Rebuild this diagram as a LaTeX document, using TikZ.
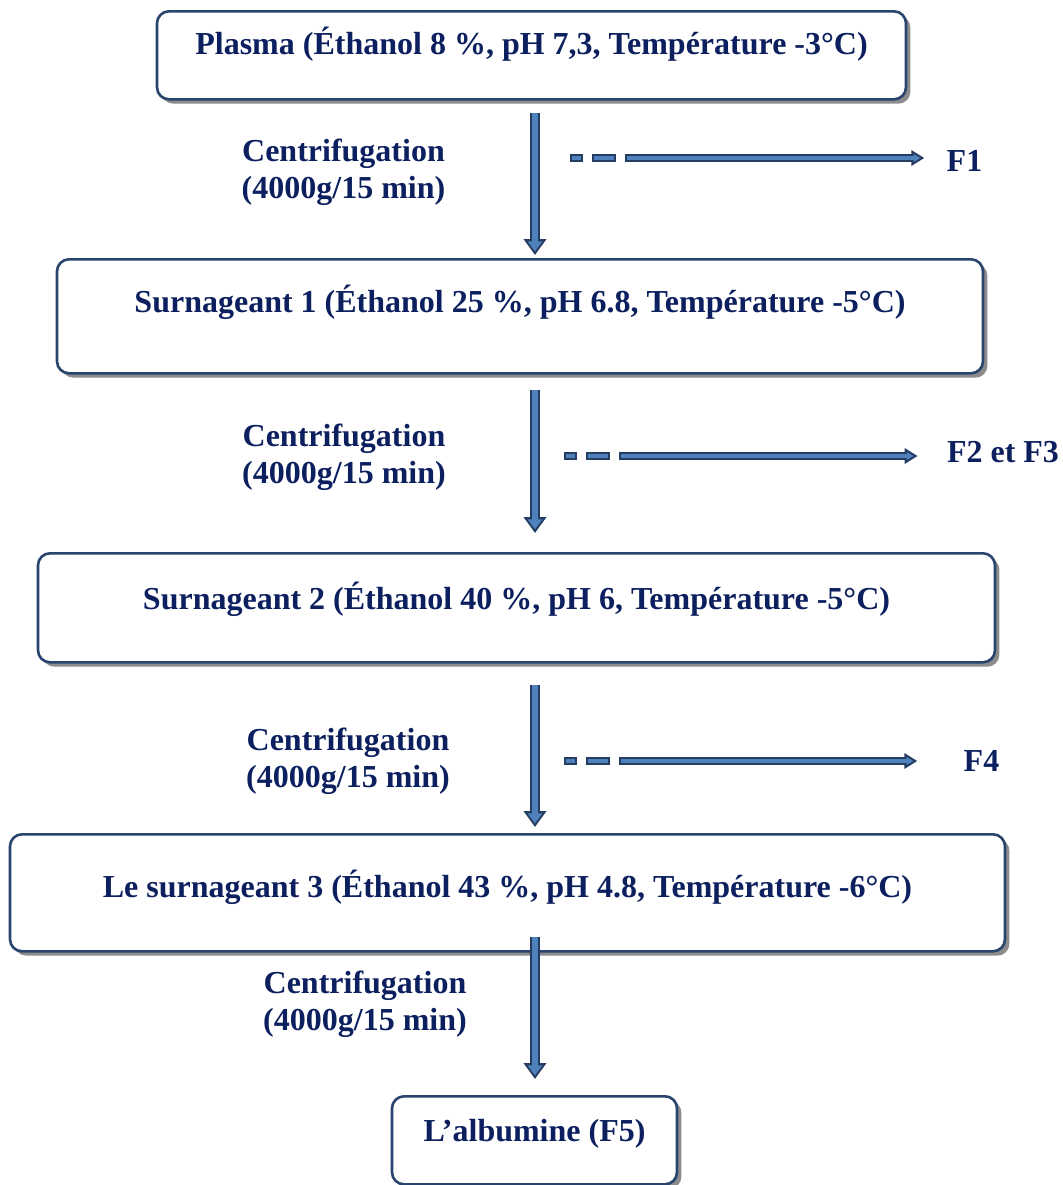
\documentclass[tikz,border=0pt]{standalone}
\usepackage{fontspec}
\setmainfont{Liberation Serif}
\usepackage{xcolor}
\usetikzlibrary{arrows.meta,shadows}

\definecolor{inkNavy}{RGB}{12,31,94}
\definecolor{edgeNavy}{RGB}{41,69,110}
\definecolor{arrowBlue}{RGB}{79,129,189}
\definecolor{arrowEdge}{RGB}{36,61,96}

\begin{document}
\begin{tikzpicture}[
    x=0.5pt, y=-0.5pt,
    every node/.style={font=\fontsize{16}{18.4}\selectfont\bfseries, text=inkNavy},
    stepBox/.style={
        rectangle,
        rounded corners=6pt,
        draw=edgeNavy,
        fill=white,
        line width=1.3pt,
        inner ysep=0pt,
        anchor=north,
        drop shadow={shadow xshift=2.2pt, shadow yshift=-2.2pt, fill=gray!90, opacity=1}
    },
    spinLabel/.style={align=center, anchor=base, inner sep=0pt},
    fracLabel/.style={inner ysep=0pt},
    flowArrow/.style={
        preaction={draw=arrowEdge, line width=5.2pt, shorten >=0pt,
            -{Triangle[length=8pt, width=11pt]}},
        draw=arrowBlue, line width=3.2pt, shorten >=1.8pt,
        -{Triangle[length=5pt, width=7pt]}
    },
    sideArrow/.style={
        preaction={draw=arrowEdge, line width=4pt, shorten >=0pt,
            dash pattern=on 6.5pt off 4.5pt on 12pt off 4.5pt on 600pt,
            -{Triangle[length=6.5pt, width=7.5pt]}},
        draw=arrowBlue, line width=1.8pt, shorten >=2pt,
        dash pattern=on 0pt off 1pt on 4.5pt off 6.5pt on 10pt off 6.5pt on 600pt,
        -{Triangle[length=3.4pt, width=3.8pt]}
    }
]
\useasboundingbox (0,0) rectangle (1062,1185);

% fractionation steps
\node[stepBox, minimum width=374.5pt, text height=21.5pt, text depth=22.5pt] (p0) at (531.5,10)
    {Plasma (Éthanol 8 \%, pH 7,3, Température -3°C)};
\node[stepBox, minimum width=463pt, text height=26.5pt, text depth=30.5pt] (s1) at (520,258)
    {Surnageant 1 (Éthanol 25 \%, pH 6.8, Température -5°C)};
\node[stepBox, minimum width=478.5pt, text height=28pt, text depth=26.5pt] (s2) at (516.5,552)
    {Surnageant 2 (Éthanol 40 \%, pH 6, Température -5°C)};
\node[stepBox, minimum width=497.5pt, text height=31.5pt, text depth=27pt] (s3) at (507.5,833)
    {Le surnageant 3 (Éthanol 43 \%, pH 4.8, Température -6°C)};
\node[stepBox, minimum width=142.5pt, text height=22.5pt, text depth=21.5pt] (alb) at (534.5,1095)
    {L’albumine (F5)};

% centrifugation labels (base = last line)
\node[spinLabel] (c1) at (343.5,198) {Centrifugation\\(4000g/15 min)};
\node[spinLabel] (c2) at (344,483) {Centrifugation\\(4000g/15 min)};
\node[spinLabel] (c3) at (348,787) {Centrifugation\\(4000g/15 min)};
\node[spinLabel] (c4) at (365,1030) {Centrifugation\\(4000g/15 min)};

% fractions
\node[fracLabel, inner xsep=11pt] (f1) at (964.5,160.5) {F1};
\node[fracLabel, inner xsep=14.5pt] (f23) at (1003,452.5) {F2 et F3};
\node[fracLabel, inner xsep=23pt] (f4) at (981.5,760.5) {F4};

\coordinate (d1) at (570,158);
\coordinate (d2) at (564,456);
\coordinate (d3) at (564,761);

% main flow
\draw[flowArrow] ([shift={(3.5,12)}]p0.south) -- ([shift={(15,-3)}]s1.north);
\draw[flowArrow] ([shift={(15,15)}]s1.south) -- ([shift={(18.5,-19)}]s2.north);
\draw[flowArrow] ([shift={(18.5,21)}]s2.south) -- ([shift={(27.5,-6)}]s3.north);
\draw[flowArrow] ([shift={(27.5,-16)}]s3.south) -- ([shift={(0.5,-16)}]alb.north);

% side outputs
\draw[sideArrow] (d1) -- (d1 -| f1.west);
\draw[sideArrow] (d2) -- (d2 -| f23.west);
\draw[sideArrow] (d3) -- (d3 -| f4.west);

\end{tikzpicture}
\end{document}
